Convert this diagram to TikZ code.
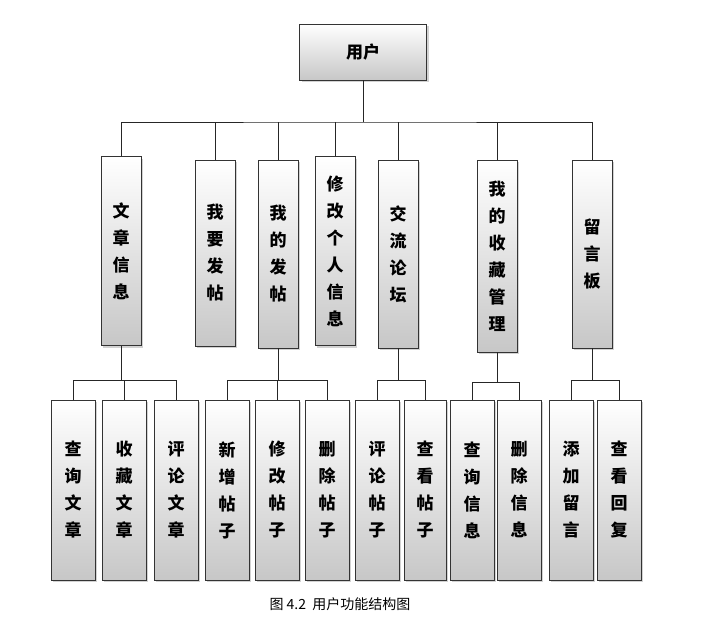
\documentclass[tikz,border=0pt]{standalone}
\usepackage{fontspec}
\setmainfont{Noto Sans CJK SC}
\newfontfamily\capfont{Noto Sans CJK SC}
\usetikzlibrary{shadows}
\tikzset{
  box/.style={draw=black!80, line width=0.6pt, top color=white, bottom color=black!22,
    drop shadow={shadow xshift=2pt, shadow yshift=-2pt, fill=black!35},
    font=\fontsize{17}{27}\selectfont\bfseries, align=center, inner sep=0pt},
  link/.style={draw=black!85, line width=0.9pt}
}
\begin{document}
\begin{tikzpicture}[x=1pt,y=-1pt]
    \useasboundingbox (0,0) rectangle (728,630);
    % root
    \node[box, minimum width=127pt, minimum height=56pt] (user) at (363,52) {用户};
    % first level
    \node[box, minimum width=40pt, minimum height=189pt] (wzxx) at (121,251) {文\\章\\信\\息};
    \node[box, minimum width=40pt, minimum height=186pt] (wyft) at (215,253) {我\\要\\发\\帖};
    \node[box, minimum width=40pt, minimum height=188pt] (wdft) at (278,254) {我\\的\\发\\帖};
    \node[box, minimum width=40pt, minimum height=189pt] (xggr) at (335,251) {修\\改\\个\\人\\信\\息};
    \node[box, minimum width=40pt, minimum height=188pt] (jllt) at (398,254) {交\\流\\论\\坛};
    \node[box, minimum width=40pt, minimum height=192pt] (scgl) at (497,256) {我\\的\\收\\藏\\管\\理};
    \node[box, minimum width=40pt, minimum height=188pt] (lyb) at (592,254) {留\\言\\板};
    % second level
    \node[box, minimum width=44pt, minimum height=180pt] (cxwz) at (73,490) {查\\询\\文\\章};
    \node[box, minimum width=44pt, minimum height=180pt] (scwz) at (124,490) {收\\藏\\文\\章};
    \node[box, minimum width=44pt, minimum height=180pt] (plwz) at (176,490) {评\\论\\文\\章};
    \node[box, minimum width=44pt, minimum height=180pt] (xzt) at (227,490) {新\\增\\帖\\子};
    \node[box, minimum width=44pt, minimum height=180pt] (xgt) at (277,490) {修\\改\\帖\\子};
    \node[box, minimum width=44pt, minimum height=180pt] (sct) at (327,490) {删\\除\\帖\\子};
    \node[box, minimum width=44pt, minimum height=180pt] (plt) at (377,490) {评\\论\\帖\\子};
    \node[box, minimum width=42pt, minimum height=180pt] (ckt) at (425,490) {查\\看\\帖\\子};
    \node[box, minimum width=44pt, minimum height=180pt] (cxxx) at (472,490) {查\\询\\信\\息};
    \node[box, minimum width=44pt, minimum height=180pt] (scxx) at (519,490) {删\\除\\信\\息};
    \node[box, minimum width=44pt, minimum height=180pt] (tjly) at (571,490) {添\\加\\留\\言};
    \node[box, minimum width=44pt, minimum height=180pt] (ckhf) at (619,490) {查\\看\\回\\复};
    % connectors
    \coordinate (bus) at (363,122);
    \draw[link] (user.south) -- (bus);
    \draw[link] (wzxx.north) |- (bus) -| (lyb.north);
    \foreach \n in {wyft,wdft,xggr,jllt,scgl}
      \draw[link] (\n.north) -- (\n.north |- bus);
    \foreach \p/\a/\b/\y in {wzxx/cxwz/plwz/380, wdft/xzt/sct/380, jllt/plt/ckt/380, scgl/cxxx/scxx/382, lyb/tjly/ckhf/380}{
      \draw[link] (\p.south) -- (\p.south |- 0,\y);
      \draw[link] (\a.north) -- (\a.north |- 0,\y) -- (\b.north |- 0,\y) -- (\b.north);
    }
    \draw[link] (scwz.north) -- (scwz.north |- 0,380);
    \draw[link] (xgt.north) -- (xgt.north |- 0,380);
    % caption
    \node[font=\capfont\fontsize{14}{16}\selectfont] (cap) at (340,604) {图 4.2\ \ 用户功能结构图};
\end{tikzpicture}
\end{document}
